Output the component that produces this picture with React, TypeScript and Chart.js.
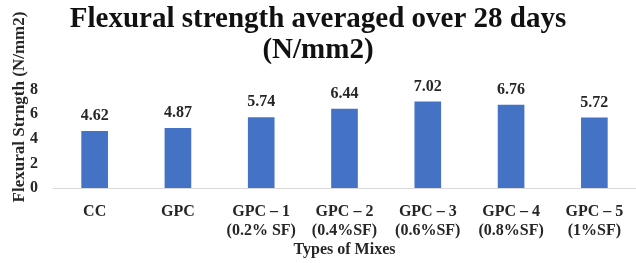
import React, { useEffect, useRef } from "react";
import { Chart, registerables } from "chart.js";

Chart.register(...registerables);

const categories: string[][] = [
  ["CC"],
  ["GPC"],
  ["GPC – 1", "(0.2% SF)"],
  ["GPC – 2", "(0.4%SF)"],
  ["GPC – 3", "(0.6%SF)"],
  ["GPC – 4", "(0.8%SF)"],
  ["GPC – 5", "(1%SF)"],
];
const strengthValues: number[] = [4.62, 4.87, 5.74, 6.44, 7.02, 6.76, 5.72];
const yTicks: number[] = [0, 2, 4, 6, 8];

const titleLines = ["Flexural strength averaged over 28 days", "(N/mm2)"];
const yTitle = "Flexural Strngth (N/mm2)";
const xTitle = "Types of Mixes";

const FONT = "'Liberation Serif', 'Times New Roman', serif";
const TEXT = "#262626";

export default function App() {
  const ref = useRef<HTMLCanvasElement | null>(null);

  useEffect(() => {
    document.body.style.margin = "0";
    const canvas = ref.current;
    if (!canvas) return;

    const labelsPlugin = {
      id: "customText",
      afterDatasetsDraw(chart: any) {
        const ctx = chart.ctx;
        ctx.save();
        ctx.fillStyle = TEXT;
        ctx.textAlign = "center";
        ctx.textBaseline = "middle";
        ctx.font = `bold 16px ${FONT}`;
        const meta = chart.getDatasetMeta(0);
        meta.data.forEach((bar: any, i: number) => {
          ctx.fillText(strengthValues[i].toFixed(2), bar.x, bar.y - 15);
        });
        // x axis title
        const ca = chart.chartArea;
        ctx.fillText(xTitle, (ca.left + ca.right) / 2, 250);
        // y axis title
        ctx.font = `bold 17px ${FONT}`;
        ctx.translate(20, 107);
        ctx.rotate(-Math.PI / 2);
        ctx.fillText(yTitle, 0, 0);
        ctx.restore();
      },
    };

    const chart = new Chart(canvas, {
      type: "bar",
      data: {
        labels: categories,
        datasets: [
          {
            data: strengthValues,
            backgroundColor: "#4472C4",
            borderWidth: 0,
            categoryPercentage: 1,
            barPercentage: 0.32,
          },
        ],
      },
      options: {
        animation: false,
        responsive: false,
        maintainAspectRatio: false,
        layout: { padding: { left: 0, right: 0, top: 0, bottom: 0 } },
        plugins: {
          legend: { display: false },
          tooltip: { enabled: false },
          title: {
            display: true,
            text: titleLines,
            color: "#111",
            font: { family: FONT, size: 29, weight: "bold", lineHeight: 1.06 },
            padding: { top: 4, bottom: 24 },
          },
        },
        scales: {
          x: {
            grid: { display: false },
            border: { display: true, color: "#d9d9d9", width: 1 },
            ticks: {
              color: TEXT,
              padding: 7,
              maxRotation: 0,
              autoSkip: false,
              font: { family: FONT, size: 16, weight: "bold", lineHeight: 1.15 },
            },
            afterFit(scale: any) {
              scale.height = 75;
            },
          },
          y: {
            min: 0,
            max: 8,
            grid: { display: false, drawTicks: false },
            border: { display: false },
            afterBuildTicks(scale: any) {
              scale.ticks = yTicks.map((v) => ({ value: v }));
            },
            ticks: {
              color: TEXT,
              padding: 15,
              font: { family: FONT, size: 16, weight: "bold" },
            },
            afterFit(scale: any) {
              scale.width = 53;
            },
          },
        },
      },
      plugins: [labelsPlugin],
    });

    return () => chart.destroy();
  }, []);

  return <canvas ref={ref} width={636} height={263} style={{ display: "block" }} />;
}
